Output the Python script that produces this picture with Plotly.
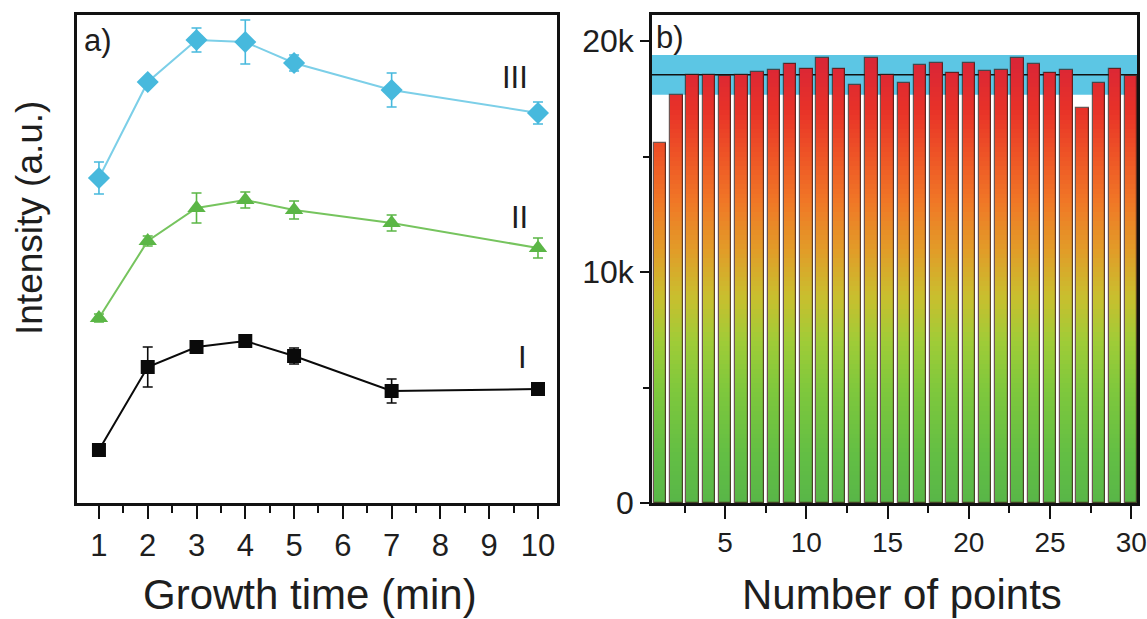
import plotly.graph_objects as go

W, H = 1147, 619

# ---------------- data ----------------
growth_time = [1, 2, 3, 4, 5, 7, 10]
series_I = [53, 136, 156, 162, 147, 112, 114]
err_I = [3, 20, 4, 3, 8, 12, 4]
series_II = [185, 262, 295, 303, 293, 280, 255]
err_II = [4, 5, 15, 8, 9, 8, 10]
series_III = [325, 421, 463, 461, 440, 413, 390]
err_III = [16, 3, 12, 22, 8, 17, 11]

point_index = list(range(1, 31))
point_intensity = [15600, 17660, 18530, 18530, 18500, 18530, 18670, 18740, 19030, 18810,
                   19250, 18810, 18100, 19250, 18530, 18170, 18960, 19060, 18630, 19060,
                   18710, 18740, 19290, 19000, 18630, 18770, 17090, 18200, 18810, 18470]
band_mean = 18540
band_std = 860

left_ticks = [1, 2, 3, 4, 5, 6, 7, 8, 9, 10]
right_xticks = [5, 10, 15, 20, 25, 30]
right_yticks = [0, 10000, 20000]
right_yticktext = ["0", "10k", "20k"]

FONT = "Liberation Sans, Arial, Helvetica, sans-serif"
TXT = "#1e1e1e"

def px(x):
    return x / W

def py(y):
    return 1 - y / H

fig = go.Figure()

# ---------------- panel a ----------------
c3, c3l = "#47b9dd", "#7ccfe8"
c2, c2l = "#5bb646", "#76c45e"
c1 = "#0a0a0a"

for ys, es, col, lcol, sym, sz in [
    (series_III, err_III, c3, c3l, "diamond", 17),
    (series_II, err_II, c2, c2l, "triangle-up", 16),
    (series_I, err_I, c1, c1, "square", 14),
]:
    fig.add_trace(go.Scatter(
        x=growth_time, y=ys, mode="lines+markers",
        line=dict(color=lcol, width=2),
        marker=dict(symbol=sym, size=sz, color=col, line=dict(width=0)),
        error_y=dict(type="data", array=es, visible=True, color=col, thickness=1.6, width=5),
        xaxis="x", yaxis="y", showlegend=False,
    ))

# ---------------- panel b ----------------
step = 200
seg_x, seg_base, seg_h, seg_c = [], [], [], []
for xi, v in zip(point_index, point_intensity):
    k = 0
    while k * step < v:
        b = k * step
        top = min(b + step + 40, v)
        seg_x.append(xi)
        seg_base.append(b)
        seg_h.append(top - b)
        seg_c.append(min(b + step / 2, v))
        k += 1

scale = [
    [0.0, "rgb(88,182,72)"],
    [2000 / 19000, "rgb(98,190,68)"],
    [5000 / 19000, "rgb(128,200,60)"],
    [7000 / 19000, "rgb(160,204,55)"],
    [9000 / 19000, "rgb(202,190,46)"],
    [11000 / 19000, "rgb(226,155,40)"],
    [13000 / 19000, "rgb(240,120,38)"],
    [15000 / 19000, "rgb(238,85,38)"],
    [17000 / 19000, "rgb(232,50,40)"],
    [1.0, "rgb(218,38,54)"],
]

fig.add_trace(go.Bar(
    x=seg_x, y=seg_h, base=seg_base, width=0.76,
    marker=dict(color=seg_c, colorscale=scale, cmin=0, cmax=19000, line=dict(width=0)),
    xaxis="x2", yaxis="y2", showlegend=False, hoverinfo="skip",
))
fig.add_trace(go.Bar(
    x=point_index, y=point_intensity, width=0.76,
    marker=dict(color="rgba(0,0,0,0)", line=dict(color="rgba(60,30,25,0.75)", width=1.2)),
    xaxis="x2", yaxis="y2", showlegend=False,
))

# band and mean line (behind bars)
fig.add_shape(type="rect", xref="x2 domain", yref="y2", x0=0, x1=1,
              y0=band_mean - band_std, y1=band_mean + band_std,
              fillcolor="#5cc6e4", line=dict(width=0), layer="below")
fig.add_shape(type="line", xref="x2 domain", yref="y2", x0=0, x1=1,
              y0=band_mean, y1=band_mean, line=dict(color="#111", width=1.6), layer="below")

axis_common = dict(showline=True, linecolor="#111", linewidth=2.5, mirror=True,
                   showgrid=False, zeroline=False, automargin=False,
                   ticklabeloverflow="allow",
                   tickfont=dict(family=FONT, size=31, color=TXT), tickcolor="#111")

fig.update_layout(
    width=W, height=H, margin=dict(l=0, r=0, t=0, b=0),
    paper_bgcolor="white", plot_bgcolor="white",
    barmode="overlay", bargap=0,
    xaxis=dict(domain=[px(77), px(557)], range=[0.55, 10.39], anchor="y",
               tickmode="array", tickvals=left_ticks, ticks="outside", ticklen=13, tickwidth=2,
               minor=dict(dtick=0.5, tick0=0.5, ticks="outside", ticklen=7, tickwidth=2, tickcolor="#111"),
               **axis_common),
    yaxis=dict(domain=[py(503), py(15)], range=[0, 488], anchor="x",
               showticklabels=False, ticks="", **axis_common),
    xaxis2=dict(domain=[px(652), px(1137)], range=[0.5, 30.35], anchor="y2",
                tickmode="array", tickvals=right_xticks, ticks="outside", ticklen=13, tickwidth=2,
                minor=dict(dtick=2.5, tick0=0, ticks="outside", ticklen=7, tickwidth=2, tickcolor="#111"),
                **{**axis_common, "tickfont": dict(family=FONT, size=28, color=TXT)}),
    yaxis2=dict(domain=[py(503), py(15)], range=[0, 21130], anchor="x2",
                tickmode="array", tickvals=right_yticks, ticktext=right_yticktext,
                ticks="outside", ticklen=9, tickwidth=2,
                minor=dict(dtick=5000, ticks="outside", ticklen=6, tickwidth=2, tickcolor="#111"),
                **{**axis_common, "tickfont": dict(family=FONT, size=32, color=TXT)}),
)

def ann(text, x, y, size, angle=0):
    fig.add_annotation(text=text, xref="paper", yref="paper", x=px(x), y=py(y),
                       xanchor="center", yanchor="middle", showarrow=False, textangle=angle,
                       font=dict(family=FONT, size=size, color=TXT))

ann("a)", 98, 40, 31)
ann("b)", 670, 38, 31)
ann("III", 515, 77, 31)
ann("II", 519, 217, 31)
ann("I", 522, 357, 31)
ann("Intensity (a.u.)", 30, 218, 37, angle=-90)
ann("Growth time (min)", 310, 594, 42)
ann("Number of points", 902, 594, 42)

fig.write_html("out.html")
